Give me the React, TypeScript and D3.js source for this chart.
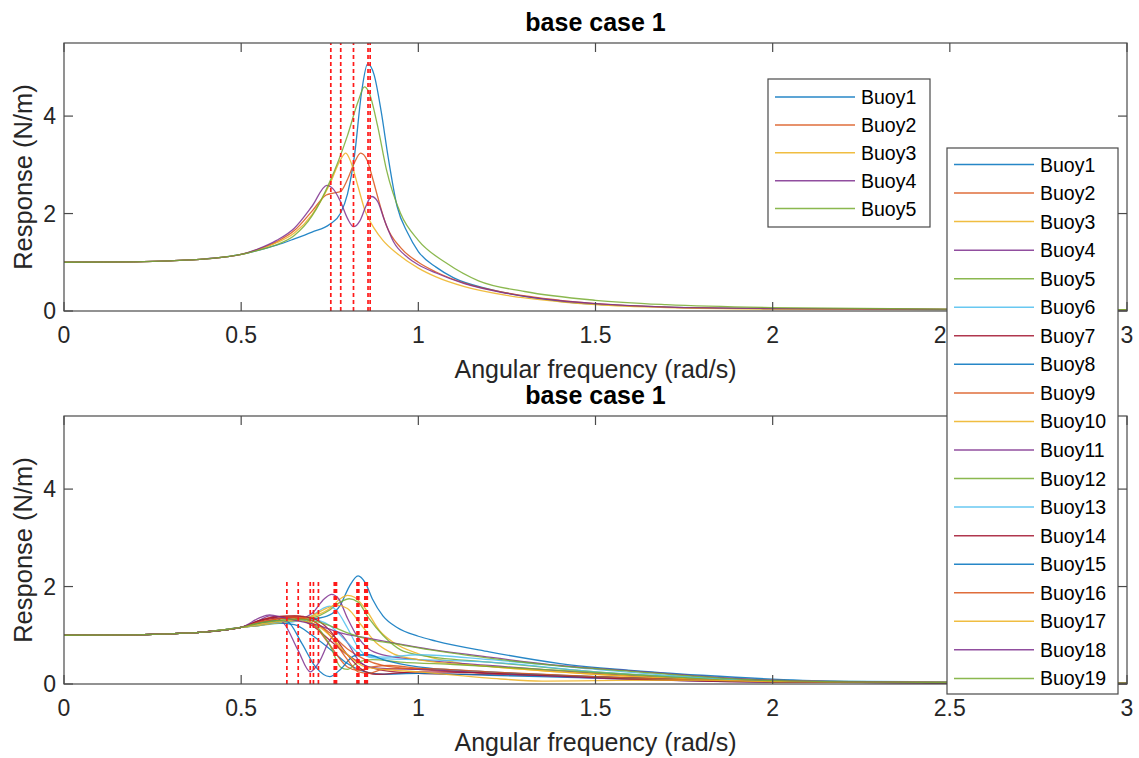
import React from 'react';
import * as d3 from 'd3';

type Pt = [number, number];

// MATLAB default line colour order
const lineColors = ['#0072BD', '#D95319', '#EDB120', '#7E2F8E', '#77AC30', '#4DBEEE', '#A2142F'];

const xTicks = [0, 0.5, 1, 1.5, 2, 2.5, 3];
const yTicks = [0, 2, 4];
const xDomain: Pt = [0, 3];
const yDomain: Pt = [0, 5.5];

const titleText = 'base case 1';
const xLabel = 'Angular frequency (rad/s)';
const yLabel = 'Response (N/m)';

// shared quasi-static part of every response curve
const lowBand: Pt[] = [[0, 1.0], [0.2, 1.01], [0.3, 1.03], [0.4, 1.07], [0.5, 1.16]];

// ---- 5-buoy case ----
const topBuoy1: Pt[] = [[0.55, 1.25], [0.6, 1.35], [0.65, 1.48], [0.7, 1.62], [0.75, 1.78], [0.78, 2.0], [0.8, 2.4], [0.82, 3.2], [0.84, 4.5], [0.857, 5.07], [0.875, 4.85], [0.895, 4.1], [0.915, 3.15], [0.94, 2.15], [0.97, 1.6], [1.0, 1.22], [1.05, 0.9], [1.1, 0.68], [1.2, 0.45], [1.3, 0.3], [1.4, 0.2], [1.5, 0.14], [1.7, 0.08], [2.0, 0.05], [2.5, 0.03], [3, 0.02]];
const topBuoy2: Pt[] = [[0.55, 1.27], [0.6, 1.42], [0.65, 1.65], [0.7, 2.05], [0.74, 2.38], [0.76, 2.42], [0.78, 2.45], [0.8, 2.7], [0.82, 3.05], [0.837, 3.24], [0.855, 3.1], [0.87, 2.75], [0.885, 2.35], [0.91, 1.75], [0.95, 1.3], [1.0, 1.0], [1.05, 0.8], [1.13, 0.57], [1.25, 0.37], [1.4, 0.22], [1.5, 0.15], [1.7, 0.08], [2.0, 0.05], [3, 0.02]];
const topBuoy3: Pt[] = [[0.55, 1.27], [0.6, 1.4], [0.65, 1.6], [0.7, 1.98], [0.75, 2.6], [0.78, 3.1], [0.795, 3.24], [0.81, 3.05], [0.83, 2.55], [0.85, 2.05], [0.875, 1.7], [0.9, 1.45], [0.94, 1.18], [1.0, 0.88], [1.05, 0.7], [1.13, 0.5], [1.25, 0.32], [1.4, 0.19], [1.5, 0.13], [1.7, 0.07], [2.0, 0.04], [3, 0.02]];
const topBuoy4: Pt[] = [[0.55, 1.28], [0.6, 1.45], [0.65, 1.7], [0.7, 2.15], [0.742, 2.58], [0.76, 2.5], [0.78, 2.25], [0.8, 1.9], [0.817, 1.73], [0.835, 1.85], [0.852, 2.15], [0.868, 2.35], [0.885, 2.25], [0.905, 1.85], [0.93, 1.42], [0.97, 1.1], [1.0, 0.95], [1.05, 0.78], [1.13, 0.56], [1.25, 0.36], [1.4, 0.21], [1.5, 0.15], [1.7, 0.08], [2.0, 0.05], [3, 0.02]];
const topBuoy5: Pt[] = [[0.55, 1.25], [0.6, 1.36], [0.65, 1.55], [0.7, 1.95], [0.75, 2.65], [0.8, 3.6], [0.83, 4.3], [0.848, 4.6], [0.86, 4.5], [0.885, 3.8], [0.91, 2.9], [0.95, 2.0], [1.0, 1.45], [1.08, 0.98], [1.17, 0.62], [1.3, 0.4], [1.5, 0.22], [1.7, 0.13], [2.0, 0.07], [2.5, 0.04], [3, 0.03]];
const topSeries = [topBuoy1, topBuoy2, topBuoy3, topBuoy4, topBuoy5];
const topNames = ['Buoy1', 'Buoy2', 'Buoy3', 'Buoy4', 'Buoy5'];
const topResonances = [0.753, 0.781, 0.817, 0.858, 0.864];

// ---- 19-buoy case ----
const botBuoy1: Pt[] = [[0.55, 1.22], [0.6, 1.27], [0.65, 1.3], [0.7, 1.33], [0.75, 1.42], [0.78, 1.62], [0.805, 2.0], [0.83, 2.22], [0.85, 2.08], [0.87, 1.75], [0.9, 1.4], [0.94, 1.16], [1.0, 0.98], [1.05, 0.88], [1.2, 0.66], [1.4, 0.42], [1.6, 0.28], [1.8, 0.18], [2.0, 0.1], [2.2, 0.05], [2.5, 0.03], [3, 0.02]];
const botBuoy2: Pt[] = [[0.55, 1.25], [0.6, 1.33], [0.65, 1.38], [0.7, 1.3], [0.75, 1.05], [0.8, 0.72], [0.85, 0.5], [0.9, 0.38], [1.0, 0.3], [1.2, 0.22], [1.5, 0.15], [2.0, 0.06], [2.5, 0.03], [3, 0.02]];
const botBuoy3: Pt[] = [[0.55, 1.22], [0.6, 1.28], [0.65, 1.32], [0.7, 1.38], [0.75, 1.55], [0.78, 1.75], [0.8, 1.82], [0.82, 1.78], [0.85, 1.55], [0.89, 1.1], [0.93, 0.85], [1.0, 0.62], [1.1, 0.45], [1.3, 0.3], [1.5, 0.2], [2.0, 0.06], [2.5, 0.03], [3, 0.02]];
const botBuoy4: Pt[] = [[0.55, 1.25], [0.6, 1.28], [0.65, 1.3], [0.7, 1.45], [0.735, 1.75], [0.755, 1.84], [0.775, 1.75], [0.8, 1.35], [0.83, 0.95], [0.86, 0.72], [0.9, 0.6], [1.0, 0.5], [1.2, 0.38], [1.5, 0.22], [2.0, 0.06], [2.5, 0.03], [3, 0.02]];
const botBuoy5: Pt[] = [[0.55, 1.22], [0.6, 1.26], [0.65, 1.3], [0.7, 1.35], [0.75, 1.52], [0.78, 1.68], [0.805, 1.75], [0.83, 1.68], [0.86, 1.35], [0.9, 1.0], [0.95, 0.7], [1.0, 0.6], [1.2, 0.45], [1.5, 0.25], [2.0, 0.08], [2.5, 0.03], [3, 0.02]];
const botBuoy6: Pt[] = [[0.55, 1.2], [0.6, 1.24], [0.65, 1.28], [0.7, 1.4], [0.73, 1.55], [0.75, 1.6], [0.77, 1.5], [0.8, 1.15], [0.83, 0.75], [0.86, 0.55], [0.9, 0.52], [1.0, 0.5], [1.2, 0.45], [1.5, 0.25], [2.0, 0.07], [2.5, 0.03], [3, 0.02]];
const botBuoy7: Pt[] = [[0.55, 1.28], [0.6, 1.35], [0.65, 1.36], [0.7, 1.2], [0.75, 0.9], [0.8, 0.6], [0.85, 0.38], [0.9, 0.28], [1.0, 0.22], [1.3, 0.18], [1.6, 0.12], [2.0, 0.05], [2.5, 0.02], [3, 0.01]];
const botBuoy8: Pt[] = [[0.55, 1.2], [0.6, 1.25], [0.65, 1.22], [0.7, 1.0], [0.75, 0.72], [0.8, 0.42], [0.85, 0.25], [0.9, 0.2], [1.0, 0.22], [1.2, 0.18], [1.6, 0.1], [2.0, 0.04], [3, 0.01]];
const botBuoy9: Pt[] = [[0.55, 1.3], [0.6, 1.38], [0.66, 1.4], [0.7, 1.25], [0.75, 0.8], [0.8, 0.35], [0.83, 0.28], [0.87, 0.35], [0.92, 0.38], [1.0, 0.32], [1.2, 0.22], [1.5, 0.14], [2.0, 0.05], [3, 0.02]];
const botBuoy10: Pt[] = [[0.55, 1.2], [0.6, 1.25], [0.65, 1.3], [0.7, 1.4], [0.74, 1.55], [0.77, 1.62], [0.8, 1.55], [0.84, 1.2], [0.88, 0.85], [0.93, 0.62], [1.0, 0.5], [1.2, 0.36], [1.5, 0.2], [2.0, 0.06], [3, 0.02]];
const botBuoy11: Pt[] = [[0.55, 1.3], [0.58, 1.4], [0.62, 1.25], [0.66, 0.7], [0.695, 0.25], [0.72, 0.45], [0.75, 0.9], [0.775, 1.05], [0.8, 0.85], [0.83, 0.5], [0.86, 0.35], [0.9, 0.32], [1.0, 0.3], [1.2, 0.22], [1.5, 0.12], [2.0, 0.04], [3, 0.02]];
const botBuoy12: Pt[] = [[0.55, 1.25], [0.6, 1.3], [0.65, 1.32], [0.7, 1.25], [0.75, 0.8], [0.78, 0.35], [0.8, 0.3], [0.83, 0.45], [0.87, 0.5], [0.95, 0.45], [1.1, 0.4], [1.4, 0.28], [1.7, 0.15], [2.0, 0.06], [3, 0.02]];
const botBuoy13: Pt[] = [[0.55, 1.22], [0.6, 1.27], [0.65, 1.3], [0.7, 1.32], [0.75, 1.2], [0.8, 0.85], [0.84, 0.6], [0.9, 0.55], [1.0, 0.6], [1.2, 0.5], [1.5, 0.3], [2.0, 0.07], [3, 0.02]];
const botBuoy14: Pt[] = [[0.55, 1.3], [0.6, 1.38], [0.65, 1.4], [0.7, 1.35], [0.75, 1.1], [0.8, 0.6], [0.84, 0.3], [0.88, 0.2], [1.0, 0.25], [1.3, 0.2], [1.6, 0.1], [2.0, 0.04], [3, 0.01]];
const botBuoy15: Pt[] = [[0.55, 1.25], [0.6, 1.3], [0.63, 1.28], [0.67, 0.85], [0.71, 0.35], [0.75, 0.15], [0.78, 0.3], [0.82, 0.58], [0.86, 0.6], [0.9, 0.5], [1.0, 0.35], [1.2, 0.25], [1.5, 0.15], [2.0, 0.05], [3, 0.02]];
const botBuoy16: Pt[] = [[0.55, 1.27], [0.6, 1.33], [0.65, 1.36], [0.7, 1.3], [0.75, 1.0], [0.8, 0.5], [0.83, 0.25], [0.86, 0.22], [0.9, 0.3], [1.0, 0.32], [1.2, 0.25], [1.5, 0.15], [2.0, 0.05], [3, 0.02]];
const botBuoy17: Pt[] = [[0.55, 1.22], [0.6, 1.28], [0.65, 1.3], [0.7, 1.25], [0.75, 1.0], [0.8, 0.6], [0.85, 0.35], [0.9, 0.3], [1.0, 0.25], [1.2, 0.12], [1.35, 0.06], [1.5, 0.07], [1.8, 0.08], [2.0, 0.05], [3, 0.02]];
const botBuoy18: Pt[] = [[0.55, 1.35], [0.58, 1.42], [0.62, 1.36], [0.67, 1.28], [0.72, 1.2], [0.78, 1.05], [0.85, 0.95], [0.94, 0.83], [1.0, 0.75], [1.2, 0.55], [1.4, 0.38], [1.6, 0.27], [1.8, 0.16], [2.0, 0.08], [2.5, 0.03], [3, 0.02]];
const botBuoy19: Pt[] = [[0.55, 1.25], [0.6, 1.3], [0.65, 1.33], [0.7, 1.3], [0.75, 1.2], [0.8, 1.05], [0.87, 0.9], [0.94, 0.82], [1.0, 0.74], [1.2, 0.53], [1.4, 0.37], [1.6, 0.26], [1.8, 0.15], [2.0, 0.07], [2.5, 0.03], [3, 0.02]];
const bottomSeries = [botBuoy1, botBuoy2, botBuoy3, botBuoy4, botBuoy5, botBuoy6, botBuoy7, botBuoy8, botBuoy9, botBuoy10, botBuoy11, botBuoy12, botBuoy13, botBuoy14, botBuoy15, botBuoy16, botBuoy17, botBuoy18, botBuoy19];
const bottomNames = bottomSeries.map((_, i) => `Buoy${i + 1}`);
const bottomResonances = [0.629, 0.661, 0.695, 0.704, 0.718, 0.763, 0.764, 0.765, 0.766, 0.767, 0.768, 0.769, 0.827, 0.829, 0.832, 0.849, 0.852, 0.854, 0.856];
const bottomResonanceTop = 2.15;

const W = 1139;
const H = 758;
const FONT = '"Liberation Sans", Arial, Helvetica, sans-serif';
const AXIS_COLOR = '#4a4a4a';
const TEXT_COLOR = '#262626';

type PanelProps = {
  top: number;
  series: Pt[][];
  resonances: number[];
  resonanceTop: number | null;
};

const left = 64;
const right = 1127;
const plotH = 268;
const tickLen = 9;

function Panel({ top, series, resonances, resonanceTop }: PanelProps) {
  const bottom = top + plotH;
  const x = d3.scaleLinear().domain(xDomain).range([left, right]);
  const y = d3.scaleLinear().domain(yDomain).range([bottom, top]);
  const line = d3
    .line<Pt>()
    .x((d) => x(d[0]))
    .y((d) => y(d[1]))
    .curve(d3.curveMonotoneX);
  const midX = (left + right) / 2;
  const midY = (top + bottom) / 2;
  const vTop = resonanceTop === null ? top : y(resonanceTop);
  return (
    <g>
      <rect x={left} y={top} width={right - left} height={plotH} fill="#fff" />
      <g fill="none" strokeWidth={1.3} strokeLinejoin="round">
        {series.map((s, i) => (
          <path
            key={i}
            d={line(lowBand.concat(s)) || ''}
            stroke={lineColors[i % lineColors.length]}
            strokeOpacity={0.85}
          />
        ))}
      </g>
      <g stroke="#ff1a1a" strokeWidth={1.7} strokeDasharray="4,3">
        {resonances.map((r, i) => (
          <line key={i} x1={x(r)} x2={x(r)} y1={y(0)} y2={vTop} />
        ))}
      </g>
      <rect x={left} y={top} width={right - left} height={plotH} fill="none" stroke={AXIS_COLOR} strokeWidth={1.2} />
      <g stroke={AXIS_COLOR} strokeWidth={1.2}>
        {xTicks.map((t) => (
          <g key={t}>
            <line x1={x(t)} x2={x(t)} y1={bottom} y2={bottom - tickLen} />
            <line x1={x(t)} x2={x(t)} y1={top} y2={top + tickLen} />
          </g>
        ))}
        {yTicks.map((t) => (
          <g key={t}>
            <line x1={left} x2={left + tickLen} y1={y(t)} y2={y(t)} />
            <line x1={right} x2={right - tickLen} y1={y(t)} y2={y(t)} />
          </g>
        ))}
      </g>
      <g fontFamily={FONT} fontSize={23} fill={TEXT_COLOR}>
        {xTicks.map((t) => (
          <text key={t} x={x(t)} y={bottom + 32} textAnchor="middle">
            {String(t)}
          </text>
        ))}
        {yTicks.map((t) => (
          <text key={t} x={left - 8} y={y(t) + 8} textAnchor="end">
            {String(t)}
          </text>
        ))}
      </g>
      <text x={midX} y={bottom + 67} textAnchor="middle" fontFamily={FONT} fontSize={25} fill={TEXT_COLOR}>
        {xLabel}
      </text>
      <text
        transform={`translate(31.5,${midY}) rotate(-90)`}
        textAnchor="middle"
        fontFamily={FONT}
        fontSize={25.5}
        fill={TEXT_COLOR}
      >
        {yLabel}
      </text>
      <text x={midX} y={top - 12} textAnchor="middle" fontFamily={FONT} fontSize={25} fontWeight="bold" fill="#000">
        {titleText}
      </text>
    </g>
  );
}

type LegendProps = {
  x0: number;
  y0: number;
  width: number;
  height: number;
  firstRow: number;
  rowStep: number;
  names: string[];
};

function Legend({ x0, y0, width, height, firstRow, rowStep, names }: LegendProps) {
  return (
    <g>
      <rect x={x0} y={y0} width={width} height={height} fill="#fff" stroke={AXIS_COLOR} strokeWidth={1.2} />
      {names.map((n, i) => {
        const cy = firstRow + i * rowStep;
        return (
          <g key={n}>
            <line
              x1={x0 + 7}
              x2={x0 + 87}
              y1={cy}
              y2={cy}
              stroke={lineColors[i % lineColors.length]}
              strokeOpacity={0.85}
              strokeWidth={1.5}
            />
            <text x={x0 + 93} y={cy + 7} fontFamily={FONT} fontSize={19.5} fill="#000">
              {n}
            </text>
          </g>
        );
      })}
    </g>
  );
}

export default function App() {
  return (
    <svg
      width={W}
      height={H}
      viewBox={`0 0 ${W} ${H}`}
      style={{ position: 'absolute', left: 0, top: 0, background: '#fff' }}
    >
      <rect width={W} height={H} fill="#fff" />
      <Panel top={43} series={topSeries} resonances={topResonances} resonanceTop={null} />
      <Legend x0={768} y0={79} width={162} height={148} firstRow={97} rowStep={27.9} names={topNames} />
      <Panel top={416} series={bottomSeries} resonances={bottomResonances} resonanceTop={bottomResonanceTop} />
      <Legend x0={947} y0={148} width={171} height={546} firstRow={164.5} rowStep={28.55} names={bottomNames} />
    </svg>
  );
}
